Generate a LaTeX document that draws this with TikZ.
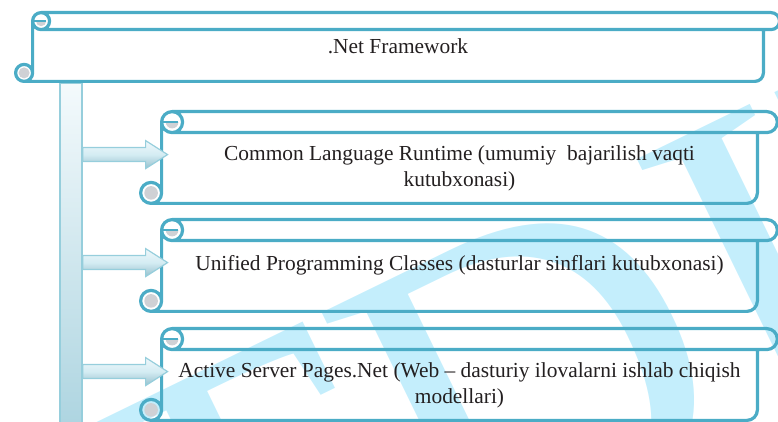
\documentclass[tikz,border=0pt]{standalone}
\usepackage{fontspec}
\setmainfont{Liberation Serif}
\usetikzlibrary{calc,positioning}

\definecolor{scrollteal}{RGB}{75,172,198}
\definecolor{curlgray}{RGB}{207,209,213}
\definecolor{barline}{RGB}{150,206,220}
\definecolor{bartop}{RGB}{244,250,252}
\definecolor{barbottom}{RGB}{172,212,224}
\definecolor{arrowline}{RGB}{150,206,220}
\definecolor{arrowtop}{RGB}{240,248,251}
\definecolor{arrowmid}{RGB}{212,236,243}
\definecolor{arrowbottom}{RGB}{150,192,205}
\definecolor{wmcyan}{RGB}{196,238,252}
\definecolor{textdark}{RGB}{35,31,32}

\tikzset{
  scrollline/.style={draw=scrollteal, line width=1.6pt, line join=round, line cap=round},
  scrollbody/.style={inner sep=0pt, minimum width=297.5pt, minimum height=35pt,
    align=center, text=textdark, font=\fontsize{10.7}{13}\selectfont},
  topbody/.style={inner sep=0pt, minimum width=365pt, text height=12pt, text depth=13.5pt,
    text=textdark, font=\fontsize{10.7}{13}\selectfont},
  bar/.style={draw=barline, line width=0.8pt, top color=bartop, bottom color=barbottom,
    minimum width=11pt, minimum height=175pt, inner sep=0pt},
  fatarrow/.style={draw=arrowline, line width=0.6pt, top color=arrowtop,
    bottom color=arrowbottom, middle color=arrowmid,
    to path={let \p1=(\tikztostart), \p2=(\tikztotarget) in
      (\x1,\y2+3.5pt) -- (\x2-11pt,\y2+3.5pt) -- (\x2-11pt,\y2+7pt) -- (\x2,\y2)
      -- (\x2-11pt,\y2-7pt) -- (\x2-11pt,\y2-3.5pt) -- (\x1,\y2-3.5pt) -- cycle}},
  watermark/.style={text=wmcyan, inner sep=0pt, font=\fontsize{240}{240}\selectfont}
}

% scroll outline round a body node: #1 node, #2 curl radius
\newcommand{\scrolldecor}[2]{%
  \fill[curlgray] let \p1=(#1.north west), \p2=(#1.south east) in
    (\x1+0.4*#2,\y1+#2) arc[start angle=180, end angle=360, radius=0.6*#2] -- cycle
    (\x1-#2,\y2+#2) circle[radius=0.65*#2];
  \draw[scrollline] let \p1=(#1.north west), \p2=(#1.south east) in
    (\x1+#2,\y1+2*#2) -- (\x2+0.9*#2,\y1+2*#2)
      arc[start angle=90, end angle=-90, radius=#2] -- (\x1+#2,\y1)
    (\x1+#2,\y1+#2) circle[radius=#2]
    (\x1,\y1+#2) -- (\x1,\y2+#2)
    (\x1-#2,\y2+#2) circle[radius=#2]
    (\x1-#2,\y2) -- (\x2-#2,\y2) arc[start angle=-90, end angle=0, radius=#2] -- (\x2,\y1);
  \draw[scrollteal, line width=1pt] let \p1=(#1.north west) in
    (\x1,\y1+#2) -- (\x1+1.6*#2,\y1+#2);
}

\begin{document}
\begin{tikzpicture}[x=0.5pt,y=-0.5pt]
  \useasboundingbox (0,0) rectangle (778,422);
  % watermark
  \node[watermark, rotate=26, anchor=base west] (tdiu) at (184,730) {TDIU};

  \node[bar, anchor=north] (bar) at (71,82) {};

  % scrolls
  \node[topbody] (net) at (398,55.5) {.Net Framework};
  \node[scrollbody] (clr) at (459.5,168) {Common Language Runtime (umumiy\ \ bajarilish vaqti\\kutubxonasi)};
  \node[scrollbody] (upc) at (459.5,276) {Unified Programming Classes (dasturlar sinflari kutubxonasi)\\\mbox{}};
  \node[scrollbody] (asp) at (459.5,385) {Active Server Pages.Net (Web -- dasturiy ilovalarni ishlab chiqish\\modellari)};
  \scrolldecor{net}{4.25pt}
  \foreach \s in {clr,upc,asp} {\scrolldecor{\s}{5.25pt}}

  % arrows
  \foreach \s in {clr,upc,asp} {
    \coordinate (\s-in) at ([xshift=3pt,yshift=-11pt]\s.north west);
    \path[fatarrow] (bar.east |- \s-in) to (\s-in);
  }
\end{tikzpicture}
\end{document}
